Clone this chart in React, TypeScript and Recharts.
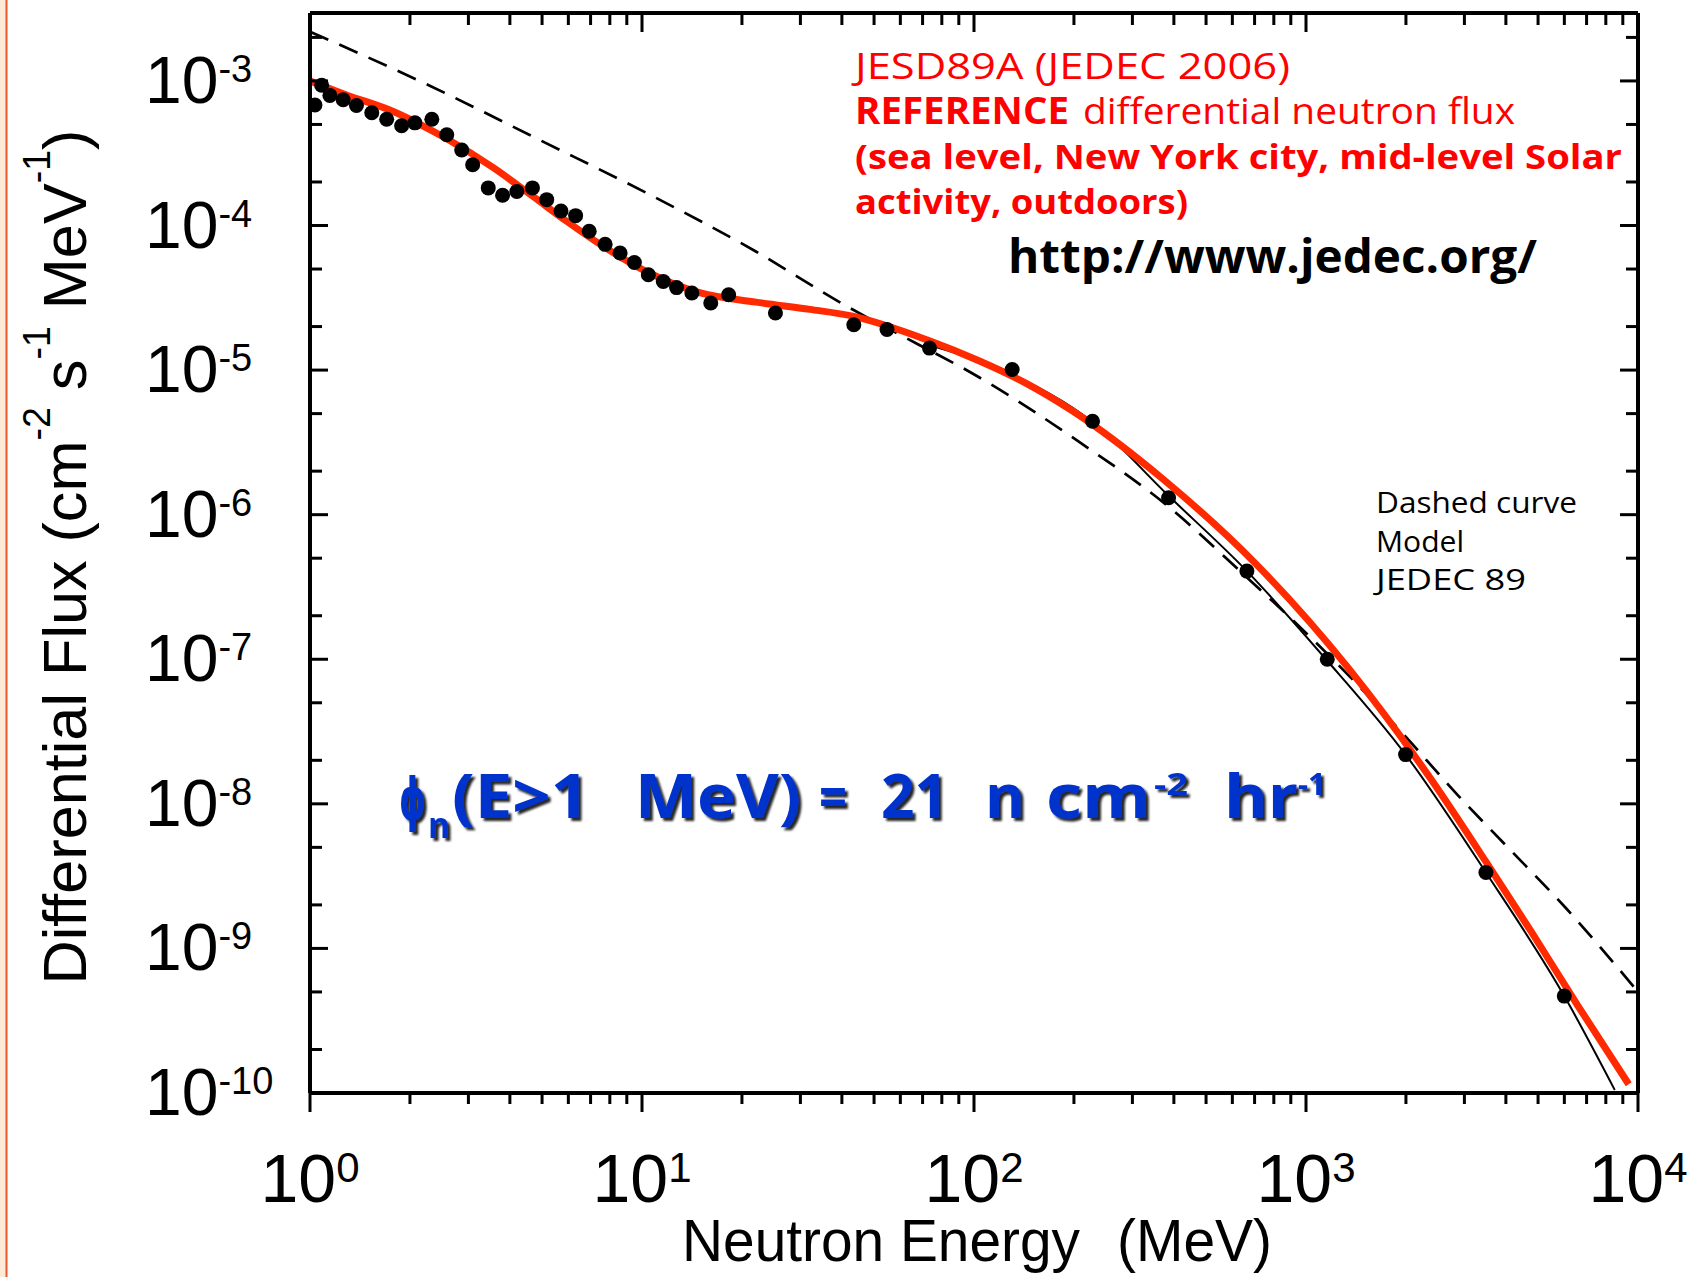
import React from 'react';
import { ComposedChart, Line, Scatter, XAxis, YAxis } from 'recharts';

const W = 1693;
const H = 1277;

// JESD89A reference spectrum (red curve)
const referenceEnergy = [1, 1.288, 1.782, 2.143, 2.582, 3.565, 4.71, 5.929, 7.834, 10.33, 14.62, 22.03, 32.06, 42.76, 72.11, 104.3, 143.2, 197.2, 373.3, 706.3, 1340, 2415, 3483, 4786, 6607, 9376];
const referenceFlux = [1.0e-3, 8.0e-4, 6.14e-4, 5.01e-4, 3.98e-4, 2.51e-4, 1.58e-4, 1.07e-4, 6.92e-5, 4.79e-5, 3.47e-5, 2.95e-5, 2.63e-5, 2.37e-5, 1.62e-5, 1.15e-5, 8.13e-6, 5.25e-6, 1.74e-6, 4.57e-7, 8.71e-8, 1.41e-8, 3.98e-9, 1.29e-9, 3.98e-10, 1.15e-10];

// JEDEC 89 model (dashed curve)
const modelEnergy = [1, 2.328, 4.932, 10.42, 22.03, 40.09, 67.76, 98.4, 208.4, 379.3, 639.7, 931.1, 1355, 1968, 2864, 4169, 6053, 10000];
const modelFlux = [2.19e-3, 9.12e-4, 3.89e-4, 1.66e-4, 6.61e-5, 2.88e-5, 1.51e-5, 9.55e-6, 3.16e-6, 1.17e-6, 3.98e-7, 1.78e-7, 7.59e-8, 3.02e-8, 1.15e-8, 4.68e-9, 1.91e-9, 5.01e-10];

// thin black fit through the measurements
const fitEnergy = [72.11, 129.7, 227.5, 385.5, 663.7, 1140, 1995, 3483, 5998, 8511];
const fitFlux = [1.51e-5, 9.33e-6, 4.37e-6, 1.35e-6, 4.07e-7, 1.02e-7, 2.19e-8, 3.35e-9, 4.68e-10, 1.05e-10];

// measured points (black dots)
const measuredEnergy = [1.035, 1.084, 1.148, 1.259, 1.38, 1.535, 1.702, 1.888, 2.07, 2.328, 2.582, 2.864, 3.09, 3.443, 3.802, 4.198, 4.677, 5.164, 5.702, 6.31, 6.934, 7.745, 8.59, 9.484, 10.45, 11.59, 12.71, 14.13, 16.11, 18.24, 25.23, 43.45, 54.7, 73.45, 130.3, 227.5, 385.5, 663.7, 1159, 1995, 3483, 5998];
const measuredFlux = [6.82e-4, 9.33e-4, 7.94e-4, 7.41e-4, 6.76e-4, 6.03e-4, 5.43e-4, 4.9e-4, 5.13e-4, 5.43e-4, 4.24e-4, 3.33e-4, 2.63e-4, 1.82e-4, 1.62e-4, 1.72e-4, 1.82e-4, 1.51e-4, 1.26e-4, 1.17e-4, 9.12e-5, 7.41e-5, 6.46e-5, 5.55e-5, 4.57e-5, 4.1e-5, 3.72e-5, 3.41e-5, 2.91e-5, 3.32e-5, 2.48e-5, 2.06e-5, 1.91e-5, 1.42e-5, 1.01e-5, 4.43e-6, 1.31e-6, 4.07e-7, 1.0e-7, 2.19e-8, 3.35e-9, 4.68e-10];

const xMajorTicks = [1, 10, 100, 1000, 10000];
const xMajorLabels = ['0', '1', '2', '3', '4'];
const xMinorTicks = [2, 3, 4, 5, 6, 7, 8, 9, 20, 30, 40, 50, 60, 70, 80, 90, 200, 300, 400, 500, 600, 700, 800, 900, 2000, 3000, 4000, 5000, 6000, 7000, 8000, 9000];
const yMajorTicks = [1e-10, 1e-9, 1e-8, 1e-7, 1e-6, 1e-5, 1e-4, 1e-3];
const yMajorLabels = ['-10', '-9', '-8', '-7', '-6', '-5', '-4', '-3'];
const yMinorTicks = [2e-10, 5e-10, 2e-9, 5e-9, 2e-8, 5e-8, 2e-7, 5e-7, 2e-6, 5e-6, 2e-5, 5e-5, 2e-4, 5e-4, 2e-3];

const xDomain = [1, 10000];
const yDomain = [1e-10, 2.95e-3];

const toRows = (es: number[], fs: number[]) => es.map((e, i) => ({ e, f: fs[i] }));
const referenceData = toRows(referenceEnergy, referenceFlux);
const modelData = toRows(modelEnergy, modelFlux);
const fitData = toRows(fitEnergy, fitFlux);
const measuredData = toRows(measuredEnergy, measuredFlux);

const xTicks = [...xMajorTicks, ...xMinorTicks];
const yTicks = [...yMajorTicks, ...yMinorTicks];

const AXIS_FONT = "'Liberation Sans', Arial, Helvetica, sans-serif";
const NOTE_FONT = "'Open Sans', 'DejaVu Sans', sans-serif";

const BottomTick = (props: any) => {
  const { x, y, payload } = props;
  const i = xMajorTicks.indexOf(payload.value);
  const major = i >= 0;
  return (
    <g>
      <line x1={x} x2={x} y1={y} y2={y + (major ? 19 : 11)} stroke="#000" strokeWidth={3} />
      {major && (
        <text x={x} y={y + 109} textAnchor="middle" fontFamily={AXIS_FONT} fill="#000">
          <tspan fontSize={68}>10</tspan>
          <tspan fontSize={42} dy={-20}>{xMajorLabels[i]}</tspan>
        </text>
      )}
    </g>
  );
};

const TopTick = (props: any) => {
  const { x, y, payload } = props;
  const major = xMajorTicks.indexOf(payload.value) >= 0;
  return <line x1={x} x2={x} y1={y} y2={y + (major ? 19 : 12)} stroke="#000" strokeWidth={3} />;
};

const LeftTick = (props: any) => {
  const { x, y, payload } = props;
  const i = yMajorTicks.indexOf(payload.value);
  const major = i >= 0;
  return (
    <g>
      <line x1={x} x2={x + (major ? 18 : 12)} y1={y} y2={y} stroke="#000" strokeWidth={3} />
      {major && (
        <text x={x - 165} y={y + 22} fontFamily={AXIS_FONT} fill="#000">
          <tspan fontSize={66}>10</tspan>
          <tspan fontSize={38} dy={-21}>{yMajorLabels[i]}</tspan>
        </text>
      )}
    </g>
  );
};

const RightTick = (props: any) => {
  const { x, y, payload } = props;
  const major = yMajorTicks.indexOf(payload.value) >= 0;
  return <line x1={x} x2={x - (major ? 18 : 12)} y1={y} y2={y} stroke="#000" strokeWidth={3} />;
};

const Dot = (props: any) => {
  const { cx, cy } = props;
  if (cx == null || cy == null) return null;
  return <circle cx={cx} cy={cy} r={7.5} fill="#000" />;
};

const axisLineStyle = { stroke: '#000', strokeWidth: 4 };

export default function App() {
  return (
    <div style={{ position: 'absolute', left: 0, top: 0, width: W, height: H, background: '#fff' }}>
      <ComposedChart width={W} height={H} margin={{ top: 8, right: 35, bottom: 0, left: 10 }}>
        <XAxis
          xAxisId="b"
          dataKey="e"
          type="number"
          scale="log"
          domain={xDomain}
          allowDataOverflow
          ticks={xTicks}
          interval={0}
          tick={<BottomTick />}
          tickLine={false}
          tickSize={0}
          tickMargin={0}
          axisLine={axisLineStyle}
          height={184}
          orientation="bottom"
        />
        <XAxis
          xAxisId="t"
          dataKey="e"
          type="number"
          scale="log"
          domain={xDomain}
          allowDataOverflow
          ticks={xTicks}
          interval={0}
          tick={<TopTick />}
          tickLine={false}
          tickSize={0}
          tickMargin={0}
          axisLine={axisLineStyle}
          height={5}
          orientation="top"
        />
        <YAxis
          yAxisId="l"
          dataKey="f"
          type="number"
          scale="log"
          domain={yDomain}
          allowDataOverflow
          ticks={yTicks}
          interval={0}
          tick={<LeftTick />}
          tickLine={false}
          tickSize={0}
          tickMargin={0}
          axisLine={axisLineStyle}
          width={300}
          orientation="left"
        />
        <YAxis
          yAxisId="r"
          dataKey="f"
          type="number"
          scale="log"
          domain={yDomain}
          allowDataOverflow
          ticks={yTicks}
          interval={0}
          tick={<RightTick />}
          tickLine={false}
          tickSize={0}
          tickMargin={0}
          axisLine={axisLineStyle}
          width={20}
          orientation="right"
        />
        <Line
          xAxisId="b"
          yAxisId="l"
          data={modelData}
          dataKey="f"
          type="monotone"
          stroke="#000"
          strokeWidth={2.7}
          strokeDasharray="20 12"
          dot={false}
          activeDot={false}
          isAnimationActive={false}
        />
        <Line
          xAxisId="b"
          yAxisId="l"
          data={fitData}
          dataKey="f"
          type="monotone"
          stroke="#000"
          strokeWidth={2}
          dot={false}
          activeDot={false}
          isAnimationActive={false}
        />
        <Scatter
          xAxisId="b"
          yAxisId="l"
          data={measuredData}
          dataKey="f"
          shape={<Dot />}
          isAnimationActive={false}
        />
        <Line
          xAxisId="b"
          yAxisId="l"
          data={referenceData}
          dataKey="f"
          type="monotone"
          stroke="#ff2a00"
          strokeWidth={7}
          dot={false}
          activeDot={false}
          isAnimationActive={false}
        />
      </ComposedChart>
      <svg
        width={W}
        height={H}
        style={{ position: 'absolute', left: 0, top: 0, pointerEvents: 'none' }}
      >
        <defs>
          <filter id="blueShadow" x="-5%" y="-30%" width="110%" height="160%">
            <feDropShadow dx="3" dy="3" stdDeviation="1.2" floodColor="#000" floodOpacity="0.85" />
          </filter>
        </defs>
        <rect x={0} y={0} width={6} height={H} fill="#fde9d8" />
        <line x1={6.5} x2={6.5} y1={0} y2={H} stroke="#e8582a" strokeWidth={2} />

        <g transform="translate(86,557) rotate(-90)">
          <text x={0} y={0} textAnchor="middle" fontFamily={AXIS_FONT} fontSize={62} fill="#000" textLength={855} lengthAdjust="spacingAndGlyphs">
            <tspan>Differential Flux</tspan>
            <tspan dx={18}>(cm</tspan>
            <tspan fontSize={38} dy={-36}>-2</tspan>
            <tspan dy={36}>{' s'}</tspan>
            <tspan fontSize={38} dy={-36}>-1</tspan>
            <tspan dy={36}>{' MeV'}</tspan>
            <tspan fontSize={38} dy={-36}>-1</tspan>
            <tspan dy={36}>)</tspan>
          </text>
        </g>

        <text x={682} y={1261} fontFamily={AXIS_FONT} fontSize={59} fill="#000" textLength={398} lengthAdjust="spacingAndGlyphs">Neutron Energy</text>
        <text x={1117} y={1261} fontFamily={AXIS_FONT} fontSize={59} fill="#000" textLength={155} lengthAdjust="spacingAndGlyphs">(MeV)</text>

        <g fontFamily={NOTE_FONT} fill="#ff0000">
          <text x={855} y={79} fontSize={36} textLength={435} lengthAdjust="spacingAndGlyphs">JESD89A (JEDEC 2006)</text>
          <text x={855} y={124} fontSize={37} fontWeight={700} textLength={214} lengthAdjust="spacingAndGlyphs">REFERENCE</text>
          <text x={1083} y={124} fontSize={37} textLength={432} lengthAdjust="spacingAndGlyphs">differential neutron flux</text>
          <text x={855} y={169} fontSize={34} fontWeight={700} textLength={767} lengthAdjust="spacingAndGlyphs">(sea level, New York city, mid-level Solar</text>
          <text x={855} y={214} fontSize={34} fontWeight={700} textLength={333} lengthAdjust="spacingAndGlyphs">activity, outdoors)</text>
        </g>

        <text x={1008} y={273} fontFamily={NOTE_FONT} fontSize={47} fontWeight={700} fill="#000" textLength={529} lengthAdjust="spacingAndGlyphs">http://www.jedec.org/</text>

        <g fontFamily={NOTE_FONT} fontSize={30} fill="#000">
          <text x={1376} y={513} textLength={201} lengthAdjust="spacingAndGlyphs">Dashed curve</text>
          <text x={1376} y={552} textLength={88} lengthAdjust="spacingAndGlyphs">Model</text>
          <text x={1376} y={590} textLength={150} lengthAdjust="spacingAndGlyphs">JEDEC 89</text>
        </g>

        <g filter="url(#blueShadow)" fill="#0033cc" fontFamily={NOTE_FONT} fontWeight={700}>
          <text x={399} y={820} fontFamily="'DejaVu Sans', sans-serif" fontSize={58} textLength={27} lengthAdjust="spacingAndGlyphs">ϕ</text>
          <text x={428} y={838} fontSize={36} textLength={22} lengthAdjust="spacingAndGlyphs">n</text>
          <text x={452} y={818} fontSize={60} textLength={137} lengthAdjust="spacingAndGlyphs">(E&gt;1</text>
          <text x={635} y={818} fontSize={60} textLength={166} lengthAdjust="spacingAndGlyphs">MeV)</text>
          <text x={819} y={818} fontSize={60} textLength={28} lengthAdjust="spacingAndGlyphs">=</text>
          <text x={881} y={818} fontSize={60} textLength={67} lengthAdjust="spacingAndGlyphs">21</text>
          <text x={985} y={818} fontSize={60} textLength={40} lengthAdjust="spacingAndGlyphs">n</text>
          <text x={1046} y={818} fontSize={60} textLength={105} lengthAdjust="spacingAndGlyphs">cm</text>
          <text x={1154} y={795} fontSize={30} textLength={34} lengthAdjust="spacingAndGlyphs">-2</text>
          <text x={1224} y={818} fontSize={60} textLength={74} lengthAdjust="spacingAndGlyphs">hr</text>
          <text x={1298} y={795} fontSize={30} textLength={28} lengthAdjust="spacingAndGlyphs">-1</text>
        </g>
      </svg>
    </div>
  );
}
